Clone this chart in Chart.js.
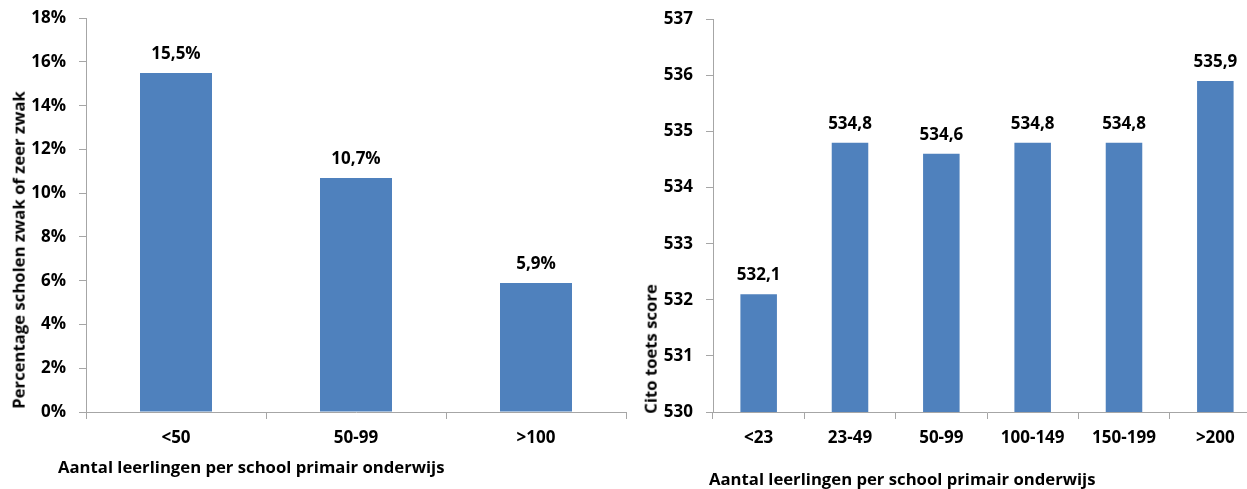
<!DOCTYPE html>
<html>
<head>
<meta charset="utf-8">
<script src="https://cdn.jsdelivr.net/npm/chart.js@4.4.1/dist/chart.umd.min.js"></script>
<style>
  html, body { margin: 0; padding: 0; background: #fff; overflow: hidden; width: 1247px; height: 489px; }
  body { position: relative; font-family: "Open Sans", sans-serif; font-weight: bold; color: #000; }
  canvas { position: absolute; }
  .t { position: absolute; font-size: 16.7px; white-space: nowrap; line-height: 1; }
  .rot { transform: translate(-50%, -50%) rotate(-90deg); }
</style>
</head>
<body>
<canvas id="leftChart" style="left:0px; top:-5px"></canvas>
<canvas id="rightChart" style="left:630px; top:-4px"></canvas>
<div class="t" style="left:58px; top:459px;">Aantal leerlingen per school primair onderwijs</div>
<div class="t" style="left:709px; top:471px;">Aantal leerlingen per school primair onderwijs</div>
<div class="t rot" style="left:19px; top:250px;">Percentage scholen zwak of zeer zwak</div>
<div class="t rot" style="left:651px; top:349px;">Cito toets score</div>
<script>
// left chart data
var leftLabels = ["<50", "50-99", ">100"];
var leftValues = [15.5, 10.7, 5.9];
var leftTicks = [0, 2, 4, 6, 8, 10, 12, 14, 16, 18];

// right chart data
var rightLabels = ["<23", "23-49", "50-99", "100-149", "150-199", ">200"];
var rightValues = [532.1, 534.8, 534.6, 534.8, 534.8, 535.9];
var rightTicks = [530, 531, 532, 533, 534, 535, 536, 537];

var BAR = "#4F81BD";
var AXIS = "#A6A6A6";
var FONT = {family: "'Open Sans', sans-serif", size: 17, weight: "bold"};

function comma(v, digits) {
    return v.toFixed(digits).replace(".", ",");
}

// draws the value above each bar
var barLabels = {
    id: "barLabels",
    afterDatasetsDraw(chart, args, opts) {
        var ctx = chart.ctx;
        var meta = chart.getDatasetMeta(0);
        ctx.save();
        ctx.font = "bold 17px 'Open Sans', sans-serif";
        ctx.fillStyle = "#000";
        ctx.textAlign = "center";
        ctx.textBaseline = "alphabetic";
        meta.data.forEach(function(bar, i) {
            var v = chart.data.datasets[0].data[i];
            ctx.fillText(opts.fmt(v), bar.x, bar.y - 14);
        });
        ctx.restore();
    }
};

// shift = how far the canvas sits above the page top
function makeChart(id, w, shift, labels, values, ticks, fmtTick, fmtLabel, axisW, padRight) {
    var cv = document.getElementById(id);
    cv.style.width = w + "px";
    cv.style.height = "489px";
    return new Chart(cv, {
        type: "bar",
        data: {
            labels: labels,
            datasets: [{
                data: values,
                backgroundColor: BAR,
                borderWidth: 0,
                categoryPercentage: 1.0,
                barPercentage: 0.4
            }]
        },
        options: {
            responsive: false,
            animation: false,
            devicePixelRatio: 1,
            layout: {padding: {top: 0, right: padRight, left: 0, bottom: 0}},
            plugins: {
                legend: {display: false},
                tooltip: {enabled: false},
                barLabels: {fmt: fmtLabel}
            },
            scales: {
                x: {
                    grid: {display: true, drawOnChartArea: false, drawTicks: true, tickLength: 7, color: AXIS, offset: true},
                    border: {display: true, color: AXIS, width: 1},
                    ticks: {color: "#000", font: FONT, padding: 9, maxRotation: 0},
                    afterFit: function(s) { s.height = 489 - 412 - shift; }
                },
                y: {
                    min: ticks[0],
                    max: ticks[ticks.length - 1],
                    afterBuildTicks: function(s) { s.ticks = ticks.map(function(v) { return {value: v}; }); },
                    grid: {display: true, drawOnChartArea: false, drawTicks: true, tickLength: 7, color: AXIS},
                    border: {display: true, color: AXIS, width: 1},
                    ticks: {color: "#000", font: FONT, padding: 13, callback: fmtTick},
                    afterFit: function(s) { s.width = axisW; }
                }
            }
        },
        plugins: [barLabels]
    });
}

makeChart("leftChart", 630, 5, leftLabels, leftValues, leftTicks,
    function(v) { return v + "%"; },
    function(v) { return comma(v, 1) + "%"; },
    86, 4);

makeChart("rightChart", 650, 4, rightLabels, rightValues, rightTicks,
    function(v) { return String(v); },
    function(v) { return comma(v, 1); },
    83, 19);
</script>
</body>
</html>
